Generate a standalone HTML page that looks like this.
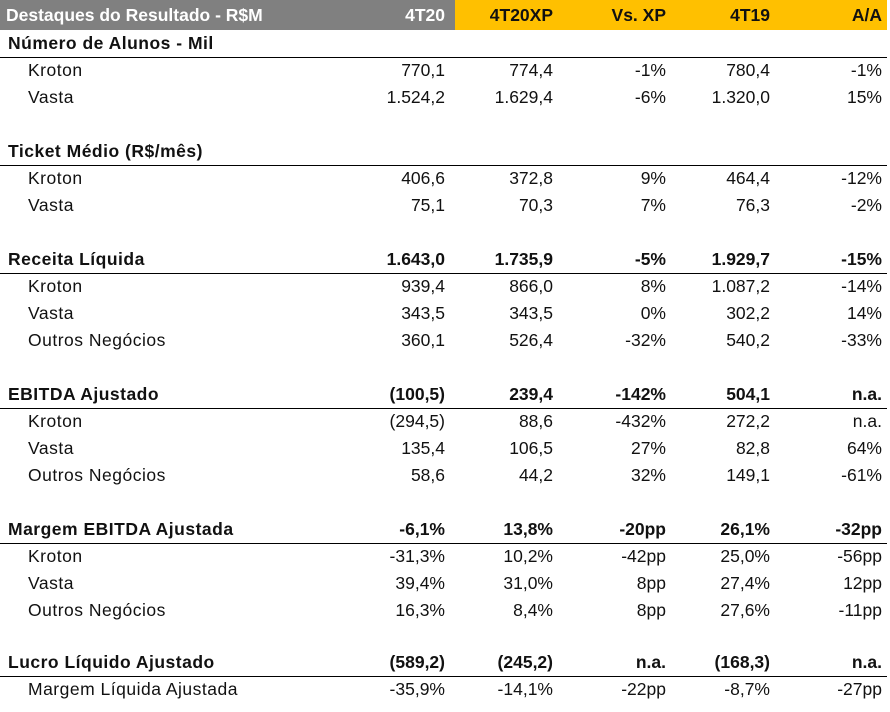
<!DOCTYPE html>
<html><head><meta charset="utf-8"><style>
body{margin:0;width:890px;height:712px;background:#fff;position:relative;overflow:hidden;font-family:"Liberation Sans",sans-serif;font-size:17.5px;color:#111}
.r{position:absolute;left:0;width:887px;height:27px;line-height:27px}
.r span{position:absolute;top:0;white-space:nowrap}
.l{left:8px;letter-spacing:0.5px}.s .l{left:28px}
.c1{right:442px}.c2{right:334px}.c3{right:221px}.c4{right:117px}.c5{right:5px}
.b{font-weight:bold}
.ln{border-bottom:1px solid #000}
.hd{position:absolute;top:0;height:30px;line-height:30px;font-weight:bold;font-size:17.5px}
</style></head><body>
<div class="hd" style="left:0;width:455px;background:#808080;color:#fff"><span style="position:absolute;left:6px">Destaques do Resultado - R$M</span><span style="position:absolute;right:10px">4T20</span></div>
<div class="hd" style="left:455px;width:432px;background:#FFC000;color:#111"><span style="position:absolute;right:334px">4T20XP</span><span style="position:absolute;right:221px">Vs. XP</span><span style="position:absolute;right:117px">4T19</span><span style="position:absolute;right:5px">A/A</span></div>

<div class="r b ln" style="top:30px"><span class="l">Número de Alunos - Mil</span></div>
<div class="r s" style="top:57px"><span class="l">Kroton</span><span class="c1">770,1</span><span class="c2">774,4</span><span class="c3">-1%</span><span class="c4">780,4</span><span class="c5">-1%</span></div>
<div class="r s" style="top:84px"><span class="l">Vasta</span><span class="c1">1.524,2</span><span class="c2">1.629,4</span><span class="c3">-6%</span><span class="c4">1.320,0</span><span class="c5">15%</span></div>

<div class="r b ln" style="top:138px"><span class="l">Ticket Médio (R$/mês)</span></div>
<div class="r s" style="top:165px"><span class="l">Kroton</span><span class="c1">406,6</span><span class="c2">372,8</span><span class="c3">9%</span><span class="c4">464,4</span><span class="c5">-12%</span></div>
<div class="r s" style="top:192px"><span class="l">Vasta</span><span class="c1">75,1</span><span class="c2">70,3</span><span class="c3">7%</span><span class="c4">76,3</span><span class="c5">-2%</span></div>

<div class="r b ln" style="top:246px"><span class="l">Receita Líquida</span><span class="c1">1.643,0</span><span class="c2">1.735,9</span><span class="c3">-5%</span><span class="c4">1.929,7</span><span class="c5">-15%</span></div>
<div class="r s" style="top:273px"><span class="l">Kroton</span><span class="c1">939,4</span><span class="c2">866,0</span><span class="c3">8%</span><span class="c4">1.087,2</span><span class="c5">-14%</span></div>
<div class="r s" style="top:300px"><span class="l">Vasta</span><span class="c1">343,5</span><span class="c2">343,5</span><span class="c3">0%</span><span class="c4">302,2</span><span class="c5">14%</span></div>
<div class="r s" style="top:327px"><span class="l">Outros Negócios</span><span class="c1">360,1</span><span class="c2">526,4</span><span class="c3">-32%</span><span class="c4">540,2</span><span class="c5">-33%</span></div>

<div class="r b ln" style="top:381px"><span class="l">EBITDA Ajustado</span><span class="c1">(100,5)</span><span class="c2">239,4</span><span class="c3">-142%</span><span class="c4">504,1</span><span class="c5">n.a.</span></div>
<div class="r s" style="top:408px"><span class="l">Kroton</span><span class="c1">(294,5)</span><span class="c2">88,6</span><span class="c3">-432%</span><span class="c4">272,2</span><span class="c5">n.a.</span></div>
<div class="r s" style="top:435px"><span class="l">Vasta</span><span class="c1">135,4</span><span class="c2">106,5</span><span class="c3">27%</span><span class="c4">82,8</span><span class="c5">64%</span></div>
<div class="r s" style="top:462px"><span class="l">Outros Negócios</span><span class="c1">58,6</span><span class="c2">44,2</span><span class="c3">32%</span><span class="c4">149,1</span><span class="c5">-61%</span></div>

<div class="r b ln" style="top:516px"><span class="l">Margem EBITDA Ajustada</span><span class="c1">-6,1%</span><span class="c2">13,8%</span><span class="c3">-20pp</span><span class="c4">26,1%</span><span class="c5">-32pp</span></div>
<div class="r s" style="top:543px"><span class="l">Kroton</span><span class="c1">-31,3%</span><span class="c2">10,2%</span><span class="c3">-42pp</span><span class="c4">25,0%</span><span class="c5">-56pp</span></div>
<div class="r s" style="top:570px"><span class="l">Vasta</span><span class="c1">39,4%</span><span class="c2">31,0%</span><span class="c3">8pp</span><span class="c4">27,4%</span><span class="c5">12pp</span></div>
<div class="r s" style="top:597px"><span class="l">Outros Negócios</span><span class="c1">16,3%</span><span class="c2">8,4%</span><span class="c3">8pp</span><span class="c4">27,6%</span><span class="c5">-11pp</span></div>

<div class="r b ln" style="top:649px"><span class="l">Lucro Líquido Ajustado</span><span class="c1">(589,2)</span><span class="c2">(245,2)</span><span class="c3">n.a.</span><span class="c4">(168,3)</span><span class="c5">n.a.</span></div>
<div class="r s" style="top:676px"><span class="l">Margem Líquida Ajustada</span><span class="c1">-35,9%</span><span class="c2">-14,1%</span><span class="c3">-22pp</span><span class="c4">-8,7%</span><span class="c5">-27pp</span></div>
</body></html>
